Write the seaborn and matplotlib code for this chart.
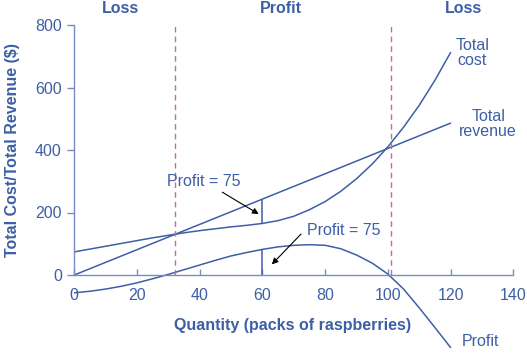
import matplotlib
matplotlib.use("Agg")
import matplotlib.pyplot as plt
import seaborn as sns
import pandas as pd

# ---- data ----
quantity = [0, 5, 10, 15, 20, 25, 30, 35, 40, 45, 50, 55, 60,
            65, 70, 75, 80, 85, 90, 95, 100, 105, 110, 115, 120]
total_cost = [74, 83, 92, 101, 110, 119, 127, 135, 142, 148, 154, 159, 165,
              174, 188, 209, 235, 268, 308, 355, 410, 473, 543, 623, 712]
profit = [-57, -52, -45, -36, -25, -12, 2, 17, 32, 47, 61, 72, 82,
          90, 95, 97, 95, 84, 64, 38, 3, -45, -105, -168, -232]
revenue_quantity = [0, 20, 40, 60, 80, 100, 120]
total_revenue = [0, 81, 162, 243, 324, 405, 486]
break_even = [32, 101]
profit_q = 60
tc_at_profit_q = 165
tr_at_profit_q = 243
profit_at_profit_q = 82
x_ticks = [0, 20, 40, 60, 80, 100, 120, 140]
y_ticks = [0, 200, 400, 600, 800]

curves = pd.DataFrame({"Quantity": quantity, "Total cost": total_cost, "Profit": profit})
revenue = pd.DataFrame({"Quantity": revenue_quantity, "Total revenue": total_revenue})

LINE = "#3f5ea6"
TEXT = "#3d5fa5"
SPINE = "#7a8dc2"
DASH = "#c46a9f"

sns.set_theme(style="white")
plt.rcParams["font.family"] = ["Liberation Sans", "DejaVu Sans"]

fig = plt.figure(figsize=(5.27, 3.56), dpi=100)
ax = fig.add_axes([74.3 / 527, 0, 439 / 527, 1])

sns.lineplot(data=curves, x="Quantity", y="Total cost", ax=ax, color=LINE, lw=1.1)
sns.lineplot(data=curves, x="Quantity", y="Profit", ax=ax, color=LINE, lw=1.1)
sns.lineplot(data=revenue, x="Quantity", y="Total revenue", ax=ax, color=LINE, lw=1.1)

ax.vlines(break_even, 0, 800, colors=DASH, linestyles=(0, (4, 3)), lw=1.0)
ax.vlines(profit_q, tc_at_profit_q, tr_at_profit_q, colors=LINE, lw=1.1)
ax.vlines(profit_q, 0, profit_at_profit_q, colors=LINE, lw=1.1)

ax.set_xlim(0, 140)
ax.set_ylim(-259.2, 880)
ax.set_xlabel("")
ax.set_ylabel("")
ax.set_xticks(x_ticks)
ax.set_yticks(y_ticks)

for s in ["top", "right"]:
    ax.spines[s].set_visible(False)
ax.spines["bottom"].set_position(("data", 0))
ax.spines["bottom"].set_bounds(0, 140)
ax.spines["left"].set_bounds(0, 800)
for s in ["bottom", "left"]:
    ax.spines[s].set_color(SPINE)
    ax.spines[s].set_linewidth(1.0)

ax.tick_params(axis="x", direction="in", length=4, width=1, color=SPINE,
               labelcolor=TEXT, labelsize=11.5, pad=9.5)
ax.tick_params(axis="y", direction="out", length=5, width=1, color=SPINE,
               labelcolor=TEXT, labelsize=11.5, pad=4, left=True)
ax.tick_params(axis="x", bottom=True)

arrow = dict(arrowstyle="-|>", color="black", lw=0.8, mutation_scale=9,
             shrinkA=0, shrinkB=0)
ax.text(41.3, 298, "Profit = 75", color=TEXT, fontsize=11.5, ha="center", va="center")
ax.annotate("", xy=(58.8, 195), xytext=(47.2, 265), arrowprops=arrow)
ax.text(86, 141, "Profit = 75", color=TEXT, fontsize=11.5, ha="center", va="center")
ax.annotate("", xy=(63, 34), xytext=(72.3, 131), arrowprops=arrow)

ax.text(127, 710, "Total\ncost", color=TEXT, fontsize=11.5, ha="center", va="center",
        linespacing=1.05)
ax.text(132, 483, "Total\nrevenue", color=TEXT, fontsize=11.5, ha="center", va="center",
        linespacing=1.05)
ax.text(129.5, -214, "Profit", color=TEXT, fontsize=11.5, ha="center", va="center")

for xq, lab in [(14.6, "Loss"), (66, "Profit"), (124, "Loss")]:
    ax.text(xq, 852, lab, color=TEXT, fontsize=11.5, fontweight="bold",
            ha="center", va="center")

ax.text(69.5, -163, "Quantity (packs of raspberries)", color=TEXT, fontsize=11.5,
        fontweight="bold", ha="center", va="center")
ax.text(-19.7, 400, "Total Cost/Total Revenue ($)", color=TEXT, fontsize=11.5,
        fontweight="bold", ha="center", va="center", rotation=90)

fig.savefig("out.png", dpi=100)
